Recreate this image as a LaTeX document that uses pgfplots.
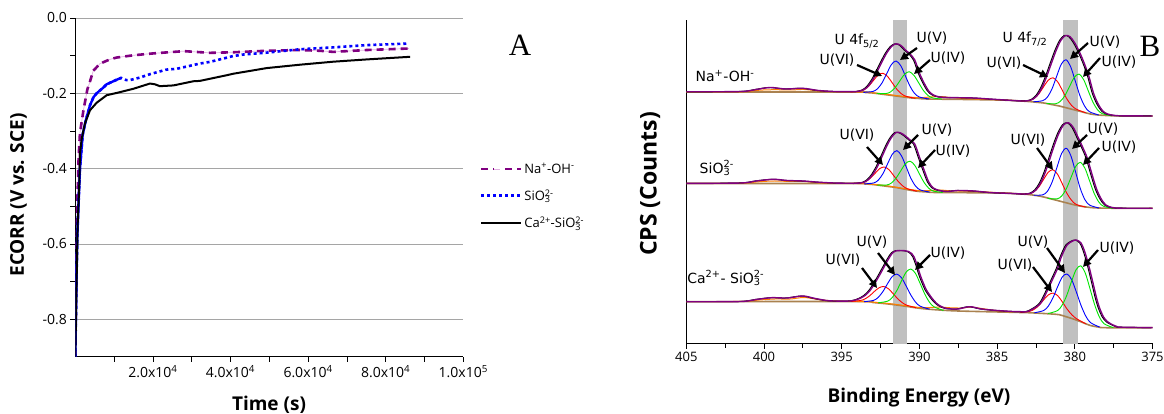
\documentclass[border=0pt]{standalone}
\usepackage{pgfplots}
\usepackage{pgfplotstable}
\pgfplotsset{compat=1.18}
\usepackage{fontspec}
\setmainfont{Open Sans}
\newfontfamily\dejavu{DejaVu Sans}
\newfontfamily\serifA{Liberation Serif}
\usetikzlibrary{arrows.meta}
\definecolor{cpurple}{RGB}{128,0,128}
\definecolor{cpink}{RGB}{225,175,225}
\definecolor{cgreen}{RGB}{0,230,0}
\definecolor{corange}{RGB}{255,128,0}
\definecolor{cbrown}{RGB}{170,130,80}
\definecolor{cband}{RGB}{192,192,192}
\definecolor{cgrid}{RGB}{165,165,165}
\newcommand{\supsub}[2]{\makebox[0pt][l]{\textsuperscript{#1}}\textsubscript{#2}}

% ---------- Panel A data ----------
\pgfplotstableread{
x y
0 -0.9
200 -0.7
520 -0.49
860 -0.37
1200 -0.305
2100 -0.245
3100 -0.19
3800 -0.168
4640 -0.14
6400 -0.121
8900 -0.11
10650 -0.105
14950 -0.099
20100 -0.094
24000 -0.091
28000 -0.088
31000 -0.09
34700 -0.0925
40700 -0.091
49300 -0.087
57900 -0.085
63000 -0.087
66500 -0.09
71600 -0.087
75100 -0.085
86000 -0.081
}\naData
\pgfplotstableread{
x y
0 -0.9
300 -0.7
520 -0.574
1200 -0.4
1900 -0.31
2750 -0.27
3780 -0.232
4700 -0.21
5500 -0.2
7200 -0.185
8080 -0.176
10650 -0.164
11800 -0.159
13200 -0.165
14000 -0.165
16700 -0.158
19300 -0.149
23500 -0.137
26100 -0.135
32100 -0.121
34700 -0.1165
40700 -0.101
43300 -0.097
49300 -0.092
57900 -0.083
66500 -0.078
75100 -0.072
85500 -0.068
}\siData
\pgfplotstableread{
x y
0 -0.9
300 -0.72
600 -0.55
860 -0.485
1030 -0.44
1200 -0.36
1630 -0.322
2060 -0.3
2490 -0.28
3780 -0.245
5500 -0.225
8080 -0.205
10650 -0.199
14950 -0.188
19240 -0.174
20500 -0.176
21800 -0.181
25300 -0.179
30400 -0.168
32100 -0.167
39000 -0.152
40700 -0.148
47600 -0.136
49300 -0.133
57900 -0.124
66500 -0.116
75100 -0.11
86300 -0.103
}\caData

% ---------- Panel B envelopes ----------
\pgfplotstableread{
x y
405 252.2
401.5 252.5
400.5 254.5
399.6 256.5
398.6 255
397.5 255.7
396.5 253.5
395.5 252.5
394.5 252.3
394.0 252.5
393.6 254.1
393.3 257.7
393.0 264.2
392.7 273
392.4 282.5
392.1 291.1
391.8 297.4
391.5 300.2
391.2 298.7
390.9 294
390.6 290
390.3 284
390.0 271
389.7 261
389.4 253
389.1 249
388.7 247
388.2 246.5
387.5 246.3
386.5 246
385.5 245
384.5 244
384.0 243.5
383.4 243
383.0 243.3
382.7 244.8
382.4 249
382.1 256.8
381.8 268
381.5 281
381.2 293.6
380.9 303.6
380.6 308.5
380.3 307.2
380.0 301
379.7 292
379.4 281
379.1 268
378.8 251
378.5 240
378.2 233
377.9 230
377.5 228.7
377.0 228.2
375 228
}\envOne
\pgfplotstableread{
x y
405 160.6
401.5 161
400.5 163
399.4 164.7
398.5 163.5
397.5 163
396.5 161.8
395.5 161
394.5 160.7
394.0 160.8
393.6 161.6
393.3 164.2
393.0 169.5
392.7 177.5
392.4 187.6
392.1 198
391.8 206.5
391.5 211.5
391.2 211
390.9 208
390.6 204
390.3 200
390.0 187
389.7 174
389.4 162
389.1 156
388.7 153.5
388.2 152.5
387.5 153.5
386.5 153
385.5 151.5
384.5 150.8
384.0 150.5
383.4 150
383.1 150
382.8 150.9
382.5 154.1
382.2 160.9
381.9 171.8
381.6 185.5
381.3 199.6
381.0 211.6
380.7 219.4
380.4 221.2
380.1 216.6
379.8 207
379.5 197
379.2 186
378.9 170
378.6 155
378.3 145
378.0 139
377.6 136.5
377.0 135.8
375 135.7
}\envTwo
\pgfplotstableread{
x y
405 42.3
401.5 42.5
400.5 44.5
399.5 46.3
398.5 46
397.5 48
396.7 45.5
395.8 43.2
394.5 43
394.0 44.5
393.8 45.8
393.5 48.5
393.2 53
393.0 57.5
392.65 66.5
392.3 76.3
392.1 82
391.9 87.3
391.7 91.5
391.45 93.3
391.2 93.5
390.95 93.3
390.7 92.5
390.5 90.5
390.35 87.3
390.15 79
389.95 69
389.75 61
389.55 54
389.2 46
388.9 40.7
388.6 37.5
388.3 35.7
387.9 35
387.5 35
386.75 37.3
386 35
385 33.5
384 32.5
383.5 32.3
383.1 32.3
382.7 35
382.2 40.7
381.8 52.3
381.4 65.7
381.1 76
380.9 85.7
380.7 93
380.5 99
380.2 102.5
379.9 104
379.6 101
379.4 94
379.2 84
379.0 72
378.8 59
378.6 46
378.4 35.7
378.15 27
377.9 22.3
377.6 19.5
377.3 17.5
377.0 16.8
375 16.3
}\envThree

\tikzset{ann/.style={-{Triangle[width=8pt,length=8pt]}, line width=2.2pt, black}}

\begin{document}
\begin{tikzpicture}
\useasboundingbox (0pt,0pt) rectangle (1164pt,414pt);

% ================= Panel A =================
\begin{axis}[
  at={(75.3pt,57pt)}, anchor=south west, scale only axis,
  width=388pt, height=339pt,
  xmin=0, xmax=100000, ymin=-0.9, ymax=0,
  axis x line*=bottom, axis y line*=left,
  xtick={20000,40000,60000,80000,100000},
  xticklabels={2.0x10\textsuperscript{4},4.0x10\textsuperscript{4},6.0x10\textsuperscript{4},8.0x10\textsuperscript{4},1.0x10\textsuperscript{5}},
  minor xtick={10000,30000,50000,70000,90000},
  scaled x ticks=false,
  ytick={-0.8,-0.6,-0.4,-0.2,0},
  yticklabels={-0.8,-0.6,-0.4,-0.2,0.0},
  minor ytick={-0.7,-0.5,-0.3,-0.1},
  ymajorgrids, major grid style={cgrid, line width=0.9pt},
  tick align=outside, major tick length=5pt, minor tick length=5pt,
  tick style={black, line width=0.8pt},
  axis line style={black, line width=1pt},
  ticklabel style={font=\fontsize{14}{16}\selectfont},
  legend style={at={(1.042,0.578)}, anchor=north west, draw=none, fill=none,
    font=\fontsize{13}{15}\selectfont, row sep=11pt, inner sep=0pt},
  legend cell align=left,
  legend image code/.code={\draw[#1] (0pt,0pt) -- (40pt,0pt);},
]
\addplot[cpink, line width=0.7pt, forget plot] table {\naData};
\addplot[cpurple, line width=2.6pt, dash pattern=on 7pt off 5pt,
  legend image code/.code={\draw[cpink, line width=0.7pt] (0pt,0pt)--(40pt,0pt); \draw[cpurple, line width=2.6pt] (0pt,0pt)--(13pt,0pt) (24pt,0pt)--(40pt,0pt);}]
  table {\naData};
\addlegendentry{Na\textsuperscript{+}-OH\textsuperscript{-}}
\addplot[blue, line width=2.4pt, forget plot, restrict x to domain=0:12500] table {\siData};
\addplot[blue, line width=2.6pt, dash pattern=on 3pt off 3pt] table {\siData};
\addlegendentry{SiO\supsub{2-}{3}}
\addplot[black, line width=2pt] table {\caData};
\addlegendentry{Ca\textsuperscript{2+}-SiO\supsub{2-}{3}}
\end{axis}

% ================= Panel B =================
\begin{axis}[
  at={(686.3pt,70pt)}, anchor=south west, scale only axis,
  width=466.2pt, height=324pt,
  xmin=375, xmax=405, x dir=reverse, ymin=0, ymax=324,
  axis x line*=bottom, axis y line*=left,
  xtick={375,380,385,390,395,400,405},
  minor xtick={377.5,382.5,387.5,392.5,397.5,402.5},
  ytick=\empty,
  tick align=outside, major tick length=5pt, minor tick length=4pt,
  tick style={black, line width=0.8pt},
  axis line style={black, line width=1pt},
  xticklabel style={/pgf/number format/assume math mode=true, font=\fontsize{13}{15}\selectfont},
  every axis plot/.append style={smooth, line join=round},
]
\fill[cband] (axis cs:391.7,0) rectangle (axis cs:390.8,324);
\fill[cband] (axis cs:380.75,0) rectangle (axis cs:379.8,324);

% ---- spectrum 1 (Na+-OH-) ----
\addplot[cbrown, line width=1.6pt] coordinates {(405,252) (394,252) (393.5,251.5) (393,251) (392.5,250) (392,249) (391.5,248) (391,247) (390.5,246) (390,245.5) (389.5,245) (387,244.5) (385,244) (384,243.5) (383,242.5) (382,241) (381.5,239.5) (381,238) (380.5,236) (380,234) (379.5,232) (379,230) (378.5,229) (378,228.5) (377,228) (375,228)};
\addplot[corange, line width=1pt] coordinates {(405,252) (401.5,252.2) (400.3,253.8) (399.3,254.3) (398.3,254) (397.4,254.5) (396.3,252.8) (395,252.1) (394,252) (393,251.2) (392,249.5) (391,247.5) (390,246.3) (389.3,247) (388.7,247.5) (388,246.5) (387,245.3) (386,244.8) (385,244.2) (384,243.6)};
\addplot[red, line width=0.9pt] coordinates {(394.45,252) (393.85,252.9) (393.55,254.3) (393.25,258) (392.95,263.6) (392.65,269.1) (392.35,270.7) (392.05,267.6) (391.75,261.2) (391.45,254.7) (391.15,250.1) (390.85,247.6) (390.25,245.7)};
\addplot[blue, line width=0.9pt] coordinates {(393.6,251.6) (393.0,252.5) (392.7,255.2) (392.4,261.2) (392.1,270.4) (391.8,279.5) (391.5,283) (391.2,278.3) (390.9,268) (390.6,257.6) (390.3,250.4) (390.0,247) (389.4,245)};
\addplot[cgreen, line width=0.9pt] coordinates {(392.75,250.5) (392.15,250.4) (391.85,252.2) (391.55,256.6) (391.25,263.3) (390.95,269.8) (390.65,272.3) (390.35,268.6) (390.05,261.3) (389.75,253.7) (389.45,248.5) (389.15,246.1) (388.55,244.9)};
\addplot[red, line width=0.9pt] coordinates {(383.5,243) (382.9,243.6) (382.6,245.7) (382.3,250.4) (382.0,257.4) (381.7,263.9) (381.4,266.2) (381.1,262.1) (380.8,253.6) (380.5,244.8) (380.2,238.4) (379.9,234.8) (379.3,231.2)};
\addplot[blue, line width=0.9pt] coordinates {(382.67,242.2) (382.07,243.3) (381.77,246.8) (381.47,255) (381.17,267.6) (380.87,279.8) (380.57,284.3) (380.27,277.4) (379.97,263) (379.67,248.3) (379.37,238) (379.07,232.4) (378.47,229)};
\addplot[cgreen, line width=0.9pt] coordinates {(381.83,240.5) (381.23,240.3) (380.93,242.7) (380.63,248.5) (380.33,257.8) (380.03,266.7) (379.73,269.9) (379.43,264.3) (379.13,253) (378.83,241.7) (378.53,234.1) (378.23,230.3) (377.63,228.3)};
\addplot[black, line width=1pt] table[x expr=\thisrowno{0}+0.08, y index=1] {\envOne};
\addplot[cpurple, line width=1.4pt] table {\envOne};

% ---- spectrum 2 (SiO3 2-) ----
\addplot[cbrown, line width=1.6pt] coordinates {(405,160.5) (394,160.5) (393.5,160) (393,159.5) (392.5,158.5) (392,157.5) (391.5,156.5) (391,155) (390.5,153.5) (390,152.5) (389.5,152) (389,151.5) (387,151.3) (385,151) (384,150.5) (383.5,150) (383,149.5) (382.5,148.5) (382,147) (381.5,145) (381,143) (380.5,141) (380,139) (379.5,137.5) (379,136.5) (378.5,136) (377,135.7) (375,135.7)};
\addplot[corange, line width=1pt] coordinates {(405,160.5) (401.5,160.8) (400.3,162.3) (399.3,163) (398.3,162.5) (397.4,162.5) (396.3,161) (395,160.6) (394,160.5) (393,159.7) (392,158) (391,155.5) (390,153.3) (389.3,153.5) (388.7,154) (388,153.2) (387,152.8) (386,152.3) (385,151.4) (384,150.6)};
\addplot[red, line width=0.9pt] coordinates {(394.35,160.5) (393.75,161.2) (393.45,162.6) (393.15,165.9) (392.85,170.7) (392.55,175.4) (392.25,177) (391.95,174.2) (391.65,168.3) (391.35,162.3) (391.05,157.8) (390.75,155.1) (390.15,152.8)};
\addplot[blue, line width=0.9pt] coordinates {(393.55,160.1) (392.95,161) (392.65,163.8) (392.35,170.2) (392.05,180.1) (391.75,189.6) (391.45,193.4) (391.15,188.1) (390.85,177.1) (390.55,165.7) (390.25,158) (389.95,154.1) (389.35,151.9)};
\addplot[cgreen, line width=0.9pt] coordinates {(392.7,158.9) (392.1,159) (391.8,161) (391.5,165.9) (391.2,173.2) (390.9,180.3) (390.6,182.8) (390.3,178.7) (390.0,170.1) (389.7,161.6) (389.4,155.8) (389.1,152.9) (388.5,151.5)};
\addplot[red, line width=0.9pt] coordinates {(383.5,149.9) (382.9,150.4) (382.6,152.6) (382.3,157.4) (382.0,164.8) (381.7,171.9) (381.4,174.2) (381.1,169.5) (380.8,160) (380.5,150.4) (380.2,143.5) (379.9,139.5) (379.3,136.9)};
\addplot[blue, line width=0.9pt] coordinates {(382.65,148.7) (382.05,149.2) (381.75,153) (381.45,162.3) (381.15,176.6) (380.85,190.5) (380.55,195.8) (380.25,188.1) (379.95,172) (379.65,155.6) (379.35,144.4) (379.05,138.9) (378.45,136)};
\addplot[cgreen, line width=0.9pt] coordinates {(381.75,145.6) (381.15,145.1) (380.85,147.9) (380.55,155.1) (380.25,166.3) (379.95,177.4) (379.65,181.7) (379.35,175.8) (379.05,163.2) (378.75,150.5) (378.45,141.9) (378.15,137.7) (377.55,135.7)};
\addplot[black, line width=1pt] table[x expr=\thisrowno{0}+0.08, y index=1] {\envTwo};
\addplot[cpurple, line width=1.4pt] table {\envTwo};

% ---- spectrum 3 (Ca2+ - SiO3 2-) ----
\addplot[cbrown, line width=1.6pt] coordinates {(405,42.3) (394,42.5) (393,41.5) (392,40) (391,38) (390,35.7) (389,34.3) (387.5,33) (384,31.7) (383,31.3) (382,30.5) (381.5,30) (381,29.3) (380.5,27) (380,24.5) (379.5,21.5) (379,18.5) (378.5,17) (378,16.3) (375,16.3)};
\addplot[corange, line width=1pt] coordinates {(405,42.3) (401.5,42.6) (400.3,44) (399.3,45) (398.3,45) (397.4,46.5) (396.3,44) (395,42.8) (394,42.5) (393,41.8) (392,40.5) (391,38.5) (390,36.5) (389.3,36.5) (388.7,37) (388,36.2) (387.2,36) (386.7,37) (386,35.5) (385,33.2) (384,32)};
\addplot[red, line width=0.9pt] coordinates {(394.4,42.5) (393.8,43.5) (393.5,45.1) (393.2,48.2) (392.9,52.5) (392.6,56.2) (392.3,57.5) (392.0,55.3) (391.7,50.5) (391.4,45.3) (391.1,41.3) (390.8,38.7) (390.2,36.2)};
\addplot[blue, line width=0.9pt] coordinates {(393.55,42.3) (392.95,43.6) (392.65,46.6) (392.35,52.4) (392.05,60.3) (391.75,67.4) (391.45,69.9) (391.15,66.2) (390.85,57.9) (390.55,48.9) (390.25,41.9) (389.95,37.8) (389.35,34.8)};
\addplot[cgreen, line width=0.9pt] coordinates {(392.65,41.2) (392.05,42.8) (391.75,46.4) (391.45,53.5) (391.15,63.1) (390.85,71.9) (390.55,75) (390.25,70.5) (389.95,60.4) (389.65,49.8) (389.35,41.7) (389.05,37.1) (388.45,33.5)};
\addplot[red, line width=0.9pt] coordinates {(383.5,31.5) (382.9,32.7) (382.6,34.8) (382.3,38.7) (382.0,44.2) (381.7,49.1) (381.4,50.9) (381.1,48.3) (380.8,42.1) (380.5,35) (380.2,29.4) (379.9,25.4) (379.3,20.3)};
\addplot[blue, line width=0.9pt] coordinates {(382.6,31.2) (382.0,33.5) (381.7,38) (381.4,46.4) (381.1,57.5) (380.8,67.1) (380.5,70) (380.2,64.3) (379.9,52) (379.6,38.6) (379.3,28.1) (379.0,21.5) (378.4,16.9)};
\addplot[cgreen, line width=0.9pt] coordinates {(381.72,30.5) (381.12,33.3) (380.82,38.7) (380.52,48.5) (380.22,62.2) (379.92,74.2) (379.62,78.2) (379.32,70.7) (379.02,55.2) (378.72,39.1) (378.42,27.1) (378.12,20.3) (377.52,16.3)};
\addplot[black, line width=1pt] table[x expr=\thisrowno{0}+0.08, y index=1] {\envThree};
\addplot[cpurple, line width=1.4pt] table {\envThree};
\end{axis}

\begin{scope}[x=1pt, y=1pt]
\node[font=\bfseries\fontsize{19}{22}\selectfont, rotate=90] at (18.5,219) {ECORR (V vs. SCE)};
\node[font=\bfseries\fontsize{19}{22}\selectfont] at (269,9) {Time (s)};
\node[font=\serifA\fontsize{31}{34}\selectfont] at (520,369) {A};
\node[font=\bfseries\fontsize{23}{26}\selectfont, rotate=90] at (650,230) {CPS (Counts)};
\node[font=\bfseries\fontsize{19}{22}\selectfont] at (919,16) {Binding Energy (eV)};
\node[font=\serifA\fontsize{31}{34}\selectfont] at (1150,368) {B};
\end{scope}

% annotations (DejaVu Sans)
\begin{scope}[x=1pt, y=1pt, every node/.style={font=\dejavu\fontsize{14}{16}\selectfont, inner sep=0pt}]
% spectrum 1
\node at (725,338) {Na\textsuperscript{+}-OH\textsuperscript{-}};
\node at (857,373) {U 4f\textsubscript{5/2}};
\node at (837,354) {U(VI)};
\node at (932,376) {U(V)};
\node at (948,356) {U(IV)};
\node at (1025,375) {U 4f\textsubscript{7/2}};
\node at (1004,351) {U(VI)};
\node at (1105,372) {U(V)};
\node at (1119,352) {U(IV)};
\draw[ann] (857,349) -- (882,338);
\draw[ann] (917,366) -- (900,354);
\draw[ann] (930,354) -- (914,340);
\draw[ann] (1023,349) -- (1048,337);
\draw[ann] (1088,371) -- (1070,355);
\draw[ann] (1100,356) -- (1083,337);
% spectrum 2
\node at (715,246) {SiO\supsub{2-}{3}};
\node at (857,279) {U(VI)};
\node at (937,284) {U(V)};
\node at (953,263) {U(IV)};
\node at (1028,274) {U(VI)};
\node at (1103,285) {U(V)};
\node at (1119,267) {U(IV)};
\draw[ann] (867,267) -- (883,249);
\draw[ann] (918,279) -- (903,264);
\draw[ann] (935,264) -- (918,246);
\draw[ann] (1037,266) -- (1053,244);
\draw[ann] (1087,279) -- (1072,265);
\draw[ann] (1099,266) -- (1083,249);
% spectrum 3
\node at (724,136) {Ca\textsuperscript{2+}- SiO\supsub{2-}{3}};
\node at (843,154) {U(VI)};
\node at (872,172) {U(V)};
\node at (948,161) {U(IV)};
\node at (1033,172) {U(V)};
\node at (1015,149) {U(VI)};
\node at (1117,166) {U(IV)};
\draw[ann] (862,146) -- (877,126);
\draw[ann] (878,161) -- (895,139);
\draw[ann] (930,159) -- (915,144);
\draw[ann] (1047,166) -- (1065,141);
\draw[ann] (1033,147) -- (1052,122);
\draw[ann] (1098,164) -- (1083,147);
\end{scope}
\end{tikzpicture}
\end{document}
